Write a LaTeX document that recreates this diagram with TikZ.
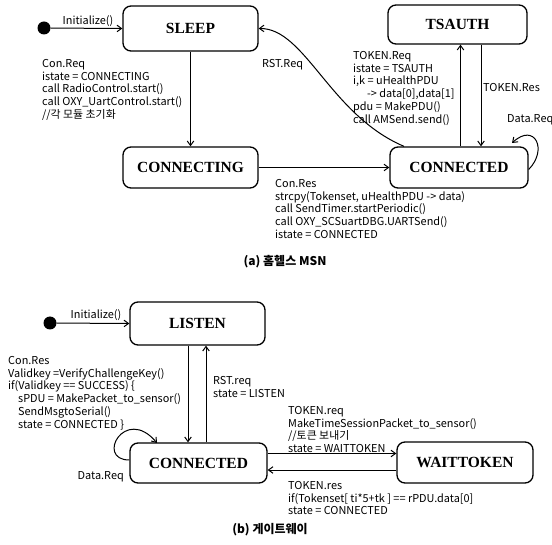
\documentclass[tikz,border=0pt]{standalone}
\usepackage{fontspec}
\setmainfont{Liberation Serif}
\newfontfamily\labfont{Noto Sans CJK KR}
\usetikzlibrary{arrows.meta}
\tikzset{
  stbox/.style={draw, rounded corners=8pt, line width=1.3pt, inner sep=0pt,
    font=\fontsize{15.5}{18}\selectfont\bfseries},
  lbl/.style={font=\labfont\fontsize{10.9}{12.8}\selectfont, align=left, inner sep=0pt, anchor=north west},
  slbl/.style={font=\labfont\fontsize{10.9}{12.8}\selectfont, inner sep=0pt},
  captxt/.style={font=\labfont\fontsize{12}{14}\selectfont\bfseries, inner sep=0pt},
  arr/.style={-{Straight Barb[length=4.5pt,width=6.5pt]}, line width=1pt},
  initdot/.style={circle, fill=black, minimum size=13pt, inner sep=0pt}
}
\begin{document}
\begin{tikzpicture}[x=1pt,y=-1pt]
\useasboundingbox (0,0) rectangle (552,545);
\fill[white] (0,0) rectangle (552,545);
\clip (0,0) rectangle (552,545);

% ---------------- (a) ----------------
\node[initdot] (dotA) at (44,28) {};
\node[stbox, minimum width=135pt, minimum height=45pt] (sleep) at (190.5,28.5) {SLEEP};
\node[stbox, minimum width=139pt, minimum height=39pt] (tsauth) at (457.5,24.5) {TSAUTH};
\node[stbox, minimum width=135pt, minimum height=41pt] (connecting) at (190.5,167.5) {CONNECTING};
\node[stbox, minimum width=138pt, minimum height=41pt] (connA) at (459,167.5) {CONNECTED};

\draw[arr] (dotA) -- (sleep.west);
\node[slbl] (initA) at (88,21) {Initialize()};
\draw[arr] (sleep.south) -- (connecting.north);
\draw[arr] (connecting.east) -- (connA.west);
\draw[arr] ([xshift=1.5pt]connA.north) -- ([xshift=1.5pt]connA.north |- tsauth.south);
\draw[arr] ([xshift=23.5pt]tsauth.south) -- ([xshift=23.5pt]tsauth.south |- connA.north);
\draw[arr] ([xshift=-55pt]connA.north) .. controls (330,115) and (305,28) .. (sleep.east);
\coordinate (dA) at (512,143);
\draw[arr] ([yshift=-2pt]connA.east) .. controls (548,150) and (535,122) .. (dA);

\node[slbl, anchor=west] (rstA) at (262,65) {RST.Req};
\node[slbl, anchor=west] (tokres) at (483,88) {TOKEN.Res};
\node[slbl, anchor=west] (dataA) at (507,120) {Data.Req};

\node[lbl] (conreq) at (42,59) {Con.Req\\istate = CONNECTING\\call RadioControl.start()\\call OXY\_UartControl.start()\\//각 모듈 초기화};
\node[lbl] (tokreq) at (353,51) {TOKEN.Req\\istate = TSAUTH\\i,k = uHealthPDU\\\hspace*{14pt}-> data[0],data[1]\\pdu = MakePDU()\\call AMSend.send()};
\node[lbl] (conres) at (275,179) {Con.Res\\strcpy(Tokenset, uHealthPDU -> data)\\call SendTimer.startPeriodic()\\call OXY\_SCSuartDBG.UARTSend()\\istate = CONNECTED};

\node[captxt] (capA) at (285,262) {(a) 홈헬스 MSN};

% ---------------- (b) ----------------
\node[initdot] (dotB) at (50,323) {};
\node[stbox, minimum width=135pt, minimum height=43pt] (listen) at (197.5,323.5) {LISTEN};
\node[stbox, minimum width=137pt, minimum height=40pt] (connB) at (198.5,463) {CONNECTED};
\node[stbox, minimum width=136pt, minimum height=41pt] (wait) at (465,462.5) {WAITTOKEN};

\draw[arr] (dotB) -- (listen.west);
\node[slbl] (initB) at (96,315) {Initialize()};
\draw[arr] ([xshift=-9.5pt]listen.south) -- ([xshift=-9.5pt]listen.south |- connB.north);
\draw[arr] ([xshift=7.5pt]connB.north) -- ([xshift=7.5pt]connB.north |- listen.south);
\draw[arr] ([yshift=9.5pt]connB.east) -- ([yshift=9.5pt]connB.east -| wait.west);
\draw[arr] ([yshift=-7.5pt]wait.west) -- ([yshift=-7.5pt]wait.west -| connB.east);
\coordinate (dB) at (157,443);
\draw[arr] ([yshift=3pt]connB.west) .. controls (95,460) and (125,405) .. (dB);
\node[slbl, anchor=east] (dataB) at (124,477) {Data.Req};

\node[lbl] (conresB) at (8,356) {Con.Res\\Validkey =VerifyChallengeKey()\\if(Validkey == SUCCESS) \{\\\hspace*{10pt}sPDU = MakePacket\_to\_sensor()\\\hspace*{10pt}SendMsgtoSerial()\\\hspace*{10pt}state = CONNECTED \}};
\node[lbl] (rstB) at (213,376) {RST.req\\state = LISTEN};
\node[lbl] (tokreqB) at (288,406) {TOKEN.req\\MakeTimeSessionPacket\_to\_sensor()\\//토큰 보내기\\state = WAITTOKEN};
\node[lbl] (tokresB) at (288,481) {TOKEN.res\\if(Tokenset[ ti*5+tk ] == rPDU.data[0]\\state = CONNECTED};

\node[captxt] (capB) at (270,530) {(b) 게이트웨이};
\end{tikzpicture}
\end{document}
